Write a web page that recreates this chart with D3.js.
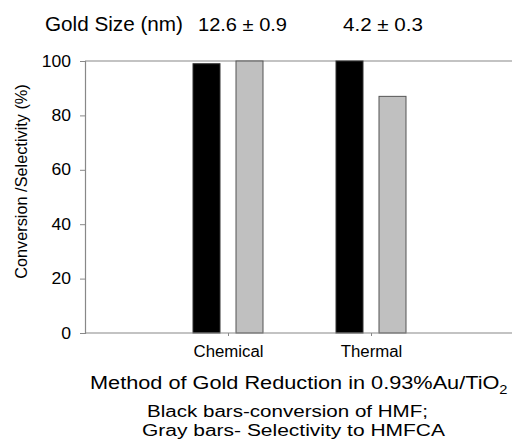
<!DOCTYPE html>
<html>
<head>
<meta charset="utf-8">
<script src="https://cdn.jsdelivr.net/npm/d3@7"></script>
<style>
  body { margin: 0; background: #fff; }
  svg { display: block; }
  text { font-family: "Liberation Sans", Arial, sans-serif; fill: #000; }
</style>
</head>
<body>
<script>
// reduction method (x categories)
const methods = ['Chemical', 'Thermal'];
// black bars: conversion of HMF (%)
const conversion = [99, 100];
// gray bars: selectivity to HMFCA (%)
const selectivity = [100, 87];
// gold particle size per method
const goldSize = ['12.6 \u00b1 0.9', '4.2 \u00b1 0.3'];
const yTicks = [0, 20, 40, 60, 80, 100];

const W = 512, H = 442;
const m = { left: 85, right: -2, top: 61, bottom: 109 };
const FONT = '"Liberation Sans", Arial, sans-serif';

const svg = d3.select('body').append('svg')
  .attr('width', W).attr('height', H);

// stretch text horizontally to the width seen in the picture
function stretch(sel, w) {
  sel.attr('textLength', w).attr('lengthAdjust', 'spacingAndGlyphs');
}
function stretchBy(sel, k) {
  sel.each(function () {
    const bw = this.getBBox().width;
    d3.select(this).attr('textLength', bw * k).attr('lengthAdjust', 'spacingAndGlyphs');
  });
}

const x = d3.scalePoint()
  .domain(methods)
  .range([m.left, W - m.right])
  .padding(1);

const y = d3.scaleLinear()
  .domain([0, 100])
  .range([H - m.bottom, m.top]);

const barW = 27, off = 21.5;
const axisColor = '#888';

// frame top line at 100
svg.append('line')
  .attr('x1', m.left).attr('x2', W)
  .attr('y1', y(100)).attr('y2', y(100))
  .attr('stroke', axisColor).attr('stroke-width', 1.2);

// bars
const groups = svg.append('g');
methods.forEach((mt, i) => {
  const cx = x(mt);
  groups.append('rect')
    .attr('x', cx - off - barW / 2)
    .attr('y', y(conversion[i]))
    .attr('width', barW)
    .attr('height', y(0) - y(conversion[i]))
    .attr('fill', '#000')
    .attr('stroke', '#333').attr('stroke-width', 1);
  groups.append('rect')
    .attr('x', cx + off - barW / 2)
    .attr('y', y(selectivity[i]))
    .attr('width', barW)
    .attr('height', y(0) - y(selectivity[i]))
    .attr('fill', '#c0c0c0')
    .attr('stroke', '#555').attr('stroke-width', 1);
});

// y axis
const yAxis = svg.append('g')
  .attr('transform', `translate(${m.left},0)`)
  .call(d3.axisLeft(y).tickValues(yTicks).tickSize(5).tickPadding(9));
yAxis.select('.domain').attr('stroke', axisColor).attr('stroke-width', 1.2);
yAxis.selectAll('.tick line').attr('stroke', axisColor);
yAxis.selectAll('.tick text')
  .attr('font-size', 16)
  .attr('font-family', FONT)
  .attr('fill', '#000')
  .call(stretchBy, 1.09);

// x axis
const xAxis = svg.append('g')
  .attr('transform', `translate(0,${y(0)})`)
  .call(d3.axisBottom(x).tickSize(3).tickPadding(10).tickSizeOuter(0));
xAxis.select('.domain').attr('stroke', axisColor).attr('stroke-width', 1.2)
  .attr('d', `M${m.left},0H${W}`);
xAxis.selectAll('.tick line').attr('stroke', axisColor);
xAxis.selectAll('.tick text')
  .attr('font-size', 16)
  .attr('font-family', FONT)
  .attr('fill', '#000')
  .call(stretchBy, 1.05);

// y label
svg.append('text')
  .attr('transform', `translate(27,${(83 + 280) / 2}) rotate(-90)`)
  .attr('text-anchor', 'middle')
  .attr('font-size', 16.3)
  .text('Conversion /Selectivity (%)');

// gold size header
svg.append('text')
  .attr('x', 45).attr('y', 31)
  .attr('font-size', 20)
  .text('Gold Size (nm)')
  .call(stretch, 138);
const sizeX = [198, 343], sizeW = [89, 80];
goldSize.forEach((g, i) => {
  svg.append('text')
    .attr('x', sizeX[i]).attr('y', 31)
    .attr('font-size', 18)
    .text(g)
    .call(stretch, sizeW[i]);
});

// x title
const xt = svg.append('text')
  .attr('x', 90).attr('y', 389)
  .attr('font-size', 18.5);
xt.append('tspan').text('Method of Gold Reduction in 0.93%Au/TiO');
xt.append('tspan').attr('font-size', 12.5).attr('dy', 5).text('2');
{
  const bw = xt.node().getBBox().width;
  const s = (508 - 90) / bw;
  xt.attr('transform', `translate(90,0) scale(${s},1) translate(-90,0)`);
}

// caption
svg.append('text')
  .attr('x', 147).attr('y', 417)
  .attr('font-size', 16)
  .text('Black bars-conversion of HMF;')
  .call(stretch, 281);
svg.append('text')
  .attr('x', 142).attr('y', 436)
  .attr('font-size', 16)
  .text('Gray bars- Selectivity to HMFCA')
  .call(stretch, 303);
</script>
</body>
</html>
